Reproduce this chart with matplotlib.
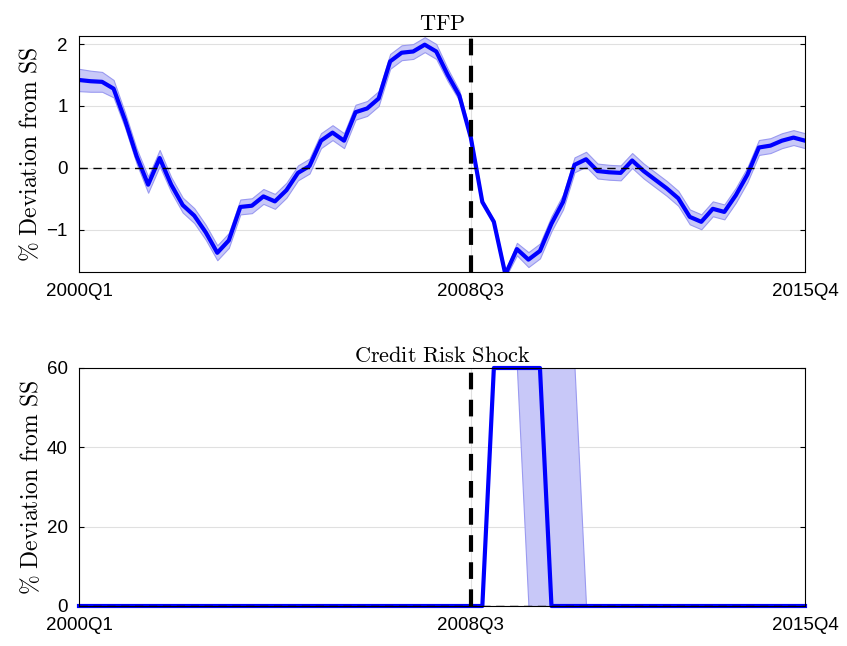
import numpy as np
import matplotlib
matplotlib.use("Agg")
import matplotlib.pyplot as plt

plt.rcParams['mathtext.fontset'] = 'cm'
plt.rcParams['font.family'] = ['Liberation Sans', 'DejaVu Sans']

quarters = np.arange(64)  # 2000Q1 .. 2015Q4
tick_pos = [0, 34, 63]
tick_labels = ['2000Q1', '2008Q3', '2015Q4']

tfp = [1.42, 1.40, 1.39, 1.28, 0.77, 0.19, -0.27, 0.16, -0.27, -0.60,
       -0.77, -1.04, -1.37, -1.17, -0.63, -0.61, -0.46, -0.54, -0.36, -0.08,
       0.03, 0.44, 0.57, 0.44, 0.90, 0.96, 1.12, 1.72, 1.86, 1.88,
       1.99, 1.88, 1.50, 1.17, 0.49, -0.55, -0.87, -1.72, -1.31, -1.48,
       -1.34, -0.90, -0.55, 0.05, 0.14, -0.05, -0.07, -0.08, 0.12, -0.05,
       -0.19, -0.33, -0.49, -0.79, -0.87, -0.66, -0.71, -0.44, -0.11, 0.33,
       0.36, 0.44, 0.49, 0.44]
tfp_band = [0.18, 0.17, 0.16, 0.14, 0.12, 0.12, 0.13, 0.13, 0.12, 0.12,
            0.12, 0.12, 0.12, 0.12, 0.12, 0.12, 0.12, 0.12, 0.12, 0.12,
            0.12, 0.12, 0.12, 0.12, 0.12, 0.12, 0.12, 0.12, 0.12, 0.12,
            0.12, 0.12, 0.10, 0.08, 0.05, 0.03, 0.03, 0.05, 0.10, 0.12,
            0.12, 0.12, 0.12, 0.12, 0.12, 0.12, 0.12, 0.12, 0.12, 0.12,
            0.12, 0.12, 0.12, 0.12, 0.12, 0.12, 0.12, 0.12, 0.12, 0.12,
            0.12, 0.12, 0.12, 0.12]

shock = [0] * 36 + [60] * 5 + [0] * 23
shock_lo = [0] * 36 + [60] * 3 + [0] * 25
shock_hi = [0] * 36 + [60] * 8 + [0] * 20

tfp = np.array(tfp)
tfp_band = np.array(tfp_band)

fig = plt.figure(figsize=(8.47, 6.46), dpi=100)
ax1 = fig.add_axes([79/847, 1 - 272/646, 726/847, 236/646])
ax2 = fig.add_axes([79/847, 1 - 606/646, 726/847, 238/646])

def style(ax):
    ax.set_xlim(0, 63)
    ax.set_xticks(tick_pos)
    ax.set_xticklabels(tick_labels)
    ax.tick_params(direction='in', top=False, right=True, labelsize=13.5, pad=8)
    ax.tick_params(axis='x', length=0)
    ax.grid(True, color='#e0e0e0', linewidth=0.8)
    ax.set_axisbelow(True)
    ax.set_ylabel(r'$\%\ \mathrm{Deviation\ from\ SS}$', fontsize=17, labelpad=3)
    for s in ax.spines.values():
        s.set_linewidth(0.8)

ax1.fill_between(quarters, tfp - tfp_band, tfp + tfp_band, color='#c8c8f8', edgecolor='#9a9af0', linewidth=0.8)
ax1.plot(quarters, tfp, color='#0000ff', linewidth=3)
ax1.axhline(0, color='black', linestyle=(0, (6, 4)), linewidth=1)
ax1.axvline(34, color='black', linestyle=(0, (4, 2.5)), linewidth=3)
ax1.set_ylim(-1.68, 2.13)
ax1.set_yticks([-1, 0, 1, 2])
ax1.set_title(r'$\mathrm{TFP}$', fontsize=16, pad=4)
style(ax1)

ax2.fill_between(quarters, shock_lo, shock_hi, color='#c8c8f8', edgecolor='#9a9af0', linewidth=0.8)
ax2.plot(quarters, shock, color='#0000ff', linewidth=3, clip_on=False)
ax2.axhline(0, color='black', linestyle=(0, (6, 4)), linewidth=1)
ax2.axvline(34, color='black', linestyle=(0, (4, 2.5)), linewidth=3)
ax2.set_ylim(0, 60)
ax2.set_yticks([0, 20, 40, 60])
ax2.set_title(r'$\mathrm{Credit\ Risk\ Shock}$', fontsize=16, pad=4)
style(ax2)

fig.savefig('out.png', dpi=100)
